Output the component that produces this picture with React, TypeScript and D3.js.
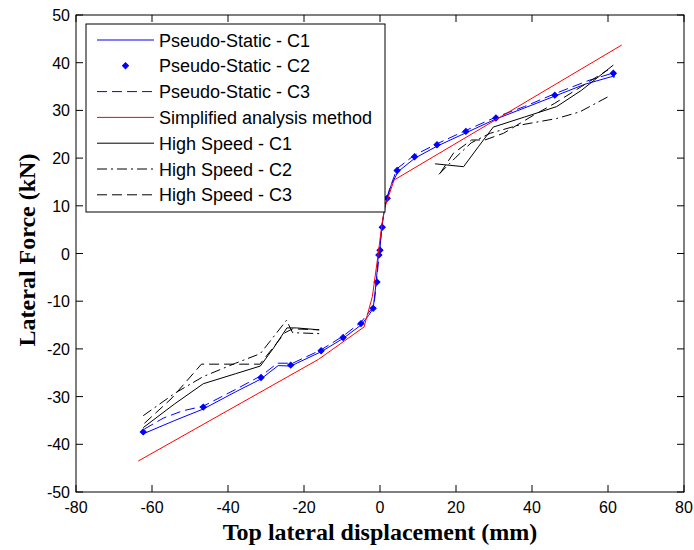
import React from 'react';
import * as d3 from 'd3';

type P = [number, number];

const xTicks = [-80, -60, -40, -20, 0, 20, 40, 60, 80];
const yTicks = [-50, -40, -30, -20, -10, 0, 10, 20, 30, 40, 50];

const legendLabels = [
  'Pseudo-Static - C1',
  'Pseudo-Static - C2',
  'Pseudo-Static - C3',
  'Simplified analysis method',
  'High Speed - C1',
  'High Speed - C2',
  'High Speed - C3',
];

const psC1: P[] = [
  [-62.3, -37.8], [-54, -35], [-46.5, -32.6], [-38, -29], [-31.3, -26.3], [-26.8, -23.5],
  [-23.5, -23.6], [-15.5, -20.6], [-9.7, -17.8], [-5, -15], [-3, -13], [-1.8, -11.5],
  [-1, -6], [-0.5, -1], [0, 1], [0.5, 6], [1.5, 10.5], [3, 14.5], [4.8, 17.2], [9.2, 20.0],
  [15, 22.5], [22.6, 25.3], [30.5, 28.2], [38, 30.5], [46, 33], [54, 35.5], [61.5, 37.2],
];

const psC2: P[] = [
  [-62.3, -37.4], [-46.5, -32.2], [-31.3, -26.0], [-23.5, -23.4], [-15.5, -20.4], [-9.7, -17.6],
  [-5.0, -14.7], [-1.8, -11.5], [-0.8, -6.0], [-0.3, -0.3], [0.0, 0.7], [0.6, 5.5], [1.9, 11.6],
  [4.5, 17.4], [9.1, 20.3], [15.0, 22.8], [22.6, 25.6], [30.5, 28.4], [46.0, 33.2], [61.4, 37.8],
];

const psC3: P[] = [
  [-62, -36.8], [-57, -34.5], [-52, -33], [-46.5, -32], [-38, -28.5], [-31, -25.5], [-27, -23],
  [-23, -23], [-15.5, -20.2], [-9.7, -17.3], [-5, -14.4], [-1.6, -11], [-0.8, -5], [-0.2, 0],
  [0.3, 4], [1.2, 10], [2.5, 13.5], [4.5, 17.8], [9, 20.6], [15, 23], [22.6, 25.8], [30.5, 28.6],
  [38, 30.8], [46, 33.5], [55, 36.3], [62, 38], [61.5, 36.8],
];

const simplified: P[] = [
  [-63.6, -43.5], [-16.2, -22.2], [-4.2, -15.4], [-2, -9], [-0.8, -2], [0.5, 6], [1.2, 9.5],
  [3.7, 15.4], [63.6, 43.7],
];

const hsC1Neg: P[] = [
  [-62.3, -36.5], [-54, -31.5], [-46.5, -27.3], [-38, -25.2], [-31.5, -23.6], [-28, -19.8],
  [-24.5, -15.6], [-22, -15.6], [-16, -16.0],
];
const hsC1Pos: P[] = [
  [14.5, 18.8], [22, 18.2], [26, 22.5], [29.8, 26.5], [38, 28.6], [46.5, 30.8], [53, 34.2], [61.4, 39.5],
];
const hsC2Neg: P[] = [
  [-62.3, -34], [-54, -29.3], [-46.5, -25.8], [-38, -23], [-31.5, -21], [-24.6, -14], [-23, -16.6],
  [-16, -16.8],
];
const hsC2Pos: P[] = [
  [15.5, 16.6], [20, 20.2], [24, 23.2], [29, 25.2], [36, 26.8], [46.5, 28.3], [52.6, 29.7], [60.1, 32.9],
];
const hsC3Neg: P[] = [
  [-62, -35.6], [-55, -30.5], [-47, -23.2], [-38.6, -23.2], [-31.6, -23.2], [-25, -16.6], [-23, -15.8],
  [-16, -16],
];
const hsC3Pos: P[] = [
  [15.8, 16.8], [19.3, 21], [24.1, 23.8], [27.6, 23.8], [32.5, 25.2], [40, 28.8], [46, 31.5], [53, 35],
  [60, 38.5],
];

const BLUE = '#0000ff';
const RED = '#ff0000';
const BLACK = '#000000';
const DASH = '10,5';
const DASHDOT = '10,4,2,4';

export default function App() {
  const W = 694, H = 550;
  const L = 76, R = 684, T = 15, B = 492;
  const x = d3.scaleLinear().domain([-80, 80]).range([L, R]);
  const y = d3.scaleLinear().domain([-50, 50]).range([B, T]);
  const line = d3.line<P>().x(d => x(d[0])).y(d => y(d[1]));
  const tickLen = 7;
  const tickFont = "'Liberation Sans', Arial, sans-serif";
  const marker = d3.symbol().type(d3.symbolSquare).size(18)() as string;

  const series = [
    { data: [psC1], stroke: BLUE, dash: undefined as string | undefined, marker: false, line: true },
    { data: [psC2], stroke: BLUE, dash: undefined, marker: true, line: false },
    { data: [psC3], stroke: BLUE, dash: DASH, marker: false, line: true },
    { data: [simplified], stroke: RED, dash: undefined, marker: false, line: true },
    { data: [hsC1Neg, hsC1Pos], stroke: BLACK, dash: undefined, marker: false, line: true },
    { data: [hsC2Neg, hsC2Pos], stroke: BLACK, dash: DASHDOT, marker: false, line: true },
    { data: [hsC3Neg, hsC3Pos], stroke: BLACK, dash: DASH, marker: false, line: true },
  ];

  const lgL = 86, lgT = 24, lgR = 385, lgB = 212;
  const rowY = (i: number) => 40 + i * 25.8;

  return (
    <svg width={W} height={H} style={{ position: 'absolute', left: 0, top: 0, display: 'block', background: '#fff' }}>
      <rect x={0} y={0} width={W} height={H} fill="#fff" />
      <rect x={L} y={T} width={R - L} height={B - T} fill="#fff" />
      {series.map((s, si) => (
        <g key={si}>
          {s.line && s.data.map((seg, k) => (
            <path key={k} d={line(seg) as string} fill="none" stroke={s.stroke} strokeWidth={1}
              strokeDasharray={s.dash} />
          ))}
          {s.marker && s.data[0].map((d, k) => (
            <path key={k} d={marker} transform={`translate(${x(d[0])},${y(d[1])}) rotate(45)`} fill={s.stroke} stroke={s.stroke} strokeWidth={1} />
          ))}
        </g>
      ))}
      <rect x={L} y={T} width={R - L} height={B - T} fill="none" stroke="#000" strokeWidth={1} />
      {xTicks.map(t => (
        <g key={'x' + t}>
          <line x1={x(t)} x2={x(t)} y1={B} y2={B - tickLen} stroke="#000" />
          <line x1={x(t)} x2={x(t)} y1={T} y2={T + tickLen} stroke="#000" />
          <text x={x(t)} y={513} textAnchor="middle" fontFamily={tickFont} fontSize={16} fill="#000">{t}</text>
        </g>
      ))}
      {yTicks.map(t => (
        <g key={'y' + t}>
          <line x1={L} x2={L + tickLen} y1={y(t)} y2={y(t)} stroke="#000" />
          <line x1={R} x2={R - tickLen} y1={y(t)} y2={y(t)} stroke="#000" />
          <text x={70} y={y(t) + 6} textAnchor="end" fontFamily={tickFont} fontSize={16} fill="#000">{t}</text>
        </g>
      ))}
      <text x={380} y={540} textAnchor="middle" fontFamily="'Liberation Serif', 'Times New Roman', serif"
        fontWeight="bold" fontSize={24} fill="#000">Top lateral displacement (mm)</text>
      <text transform="translate(35,250) rotate(-90)" textAnchor="middle"
        fontFamily="'Liberation Serif', 'Times New Roman', serif" fontWeight="bold" fontSize={24} fill="#000">
        Lateral Force (kN)
      </text>
      <rect x={lgL} y={lgT} width={lgR - lgL} height={lgB - lgT} fill="#fff" stroke="#000" strokeWidth={1} />
      {legendLabels.map((lab, i) => {
        const s = series[i];
        const yy = rowY(i);
        return (
          <g key={lab}>
            {s.line && <line x1={97} x2={154} y1={yy} y2={yy} stroke={s.stroke} strokeWidth={1} strokeDasharray={s.dash} />}
            {s.marker && <path d={marker} transform={`translate(125.5,${yy}) rotate(45)`} fill={s.stroke} stroke={s.stroke} strokeWidth={1} />}
            <text x={159} y={yy + 6.5} fontFamily={tickFont} fontSize={18} fill="#000">{lab}</text>
          </g>
        );
      })}
    </svg>
  );
}
